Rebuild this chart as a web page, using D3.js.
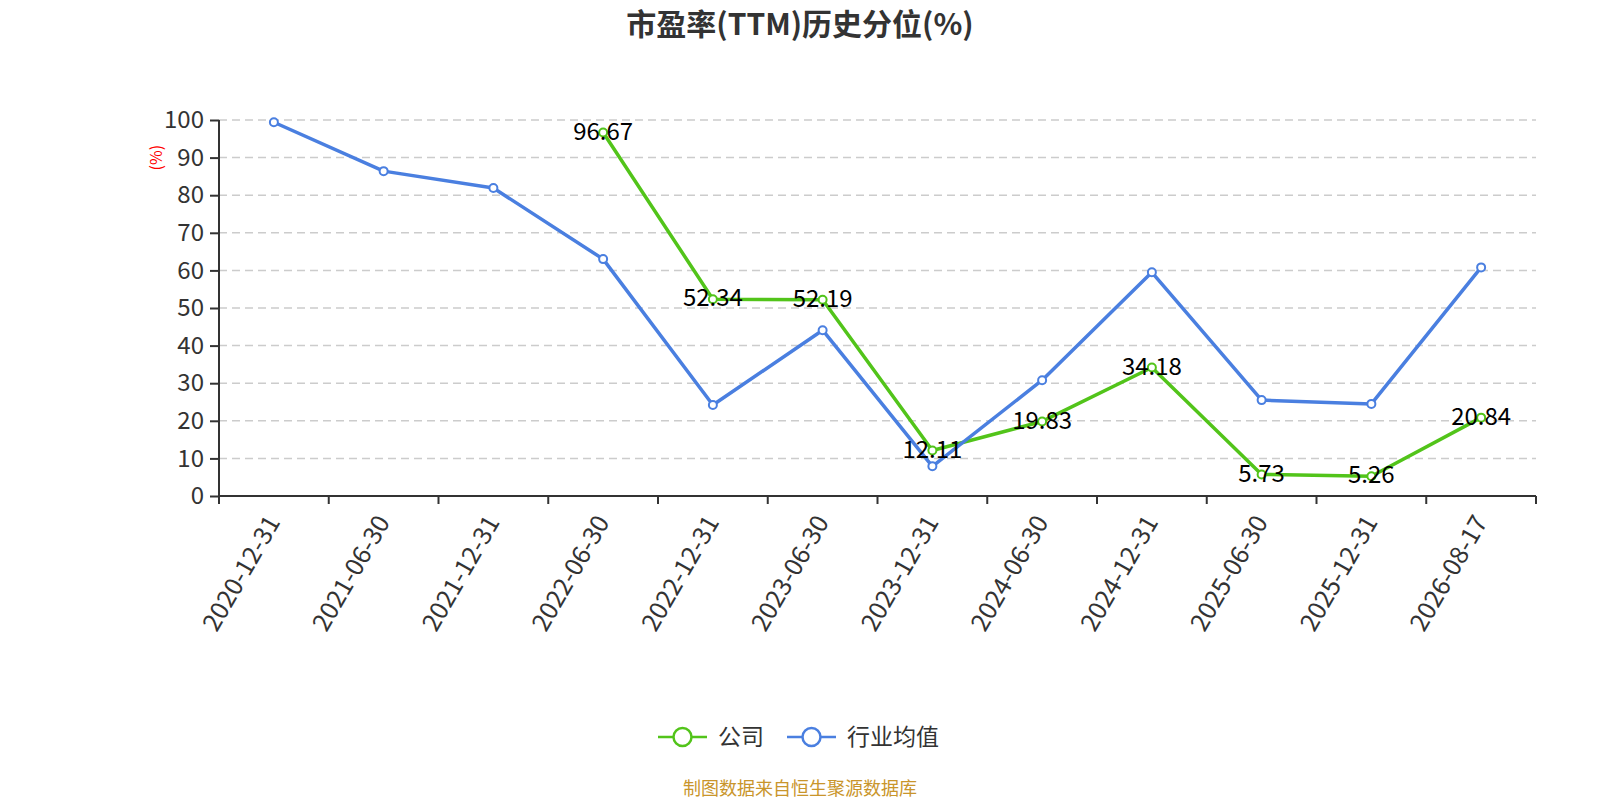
<!DOCTYPE html>
<html>
<head>
<meta charset="utf-8">
<script src="https://cdn.jsdelivr.net/npm/d3@7"></script>
<style>
  body { margin: 0; background: #fff; }
  text { font-family: "Noto Sans CJK SC", "Open Sans", sans-serif; }
</style>
</head>
<body>
<svg id="chart"></svg>
<script>
// categories and series
const dates = ["2020-12-31", "2021-06-30", "2021-12-31", "2022-06-30", "2022-12-31", "2023-06-30",
    "2023-12-31", "2024-06-30", "2024-12-31", "2025-06-30", "2025-12-31", "2026-08-17"];
const company = [null, null, null, 96.67, 52.34, 52.19, 12.11, 19.83, 34.18, 5.73, 5.26, 20.84];
const industry = [99.4, 86.4, 81.9, 63.0, 24.2, 44.1, 7.9, 30.8, 59.5, 25.5, 24.5, 60.8];
const yTicks = [0, 10, 20, 30, 40, 50, 60, 70, 80, 90, 100];
const seriesNames = ["公司", "行业均值"];
const colors = ["#52C41A", "#4A7FE0"];

const width = 1600, height = 800;
const margin = { left: 219, right: 64, top: 120, bottom: 304 };
const svg = d3.select("#chart").attr("width", width).attr("height", height);

const x = d3.scaleBand().domain(dates).range([margin.left, width - margin.right]);
const y = d3.scaleLinear().domain([0, 100]).range([height - margin.bottom, margin.top]);

// title
svg.append("text")
    .attr("x", 800).attr("y", 35)
    .attr("text-anchor", "middle")
    .attr("font-size", 30).attr("font-weight", "bold")
    .attr("fill", "#333")
    .text("市盈率(TTM)历史分位(%)");

// grid lines
svg.append("g")
    .selectAll("line")
    .data(yTicks.filter(d => d > 0))
    .enter().append("line")
    .attr("x1", margin.left).attr("x2", width - margin.right)
    .attr("y1", d => y(d)).attr("y2", d => y(d))
    .attr("stroke", "#ccc").attr("stroke-width", 1.5)
    .attr("stroke-dasharray", "8,5");

// y axis
const yAxis = svg.append("g")
    .attr("transform", `translate(${margin.left},0)`)
    .call(d3.axisLeft(y).tickValues(yTicks).tickSize(9).tickPadding(6));
yAxis.select(".domain").attr("stroke", "#333").attr("stroke-width", 2).attr("d", `M0,${y(0)}V${y(100)}`);
yAxis.selectAll(".tick line").attr("stroke", "#333").attr("stroke-width", 2);
yAxis.selectAll(".tick text").attr("font-size", 24).attr("fill", "#333")
    .attr("font-family", "'Open Sans', sans-serif");

svg.append("text")
    .attr("transform", `translate(162,${y(90)}) rotate(-90)`)
    .attr("text-anchor", "middle")
    .attr("font-size", 16).attr("fill", "red")
    .text("(%)");

// x axis
const xAxis = svg.append("g")
    .attr("transform", `translate(0,${y(0)})`)
    .call(d3.axisBottom(x).tickSize(0).tickSizeOuter(0));
xAxis.select(".domain").attr("stroke", "#333").attr("stroke-width", 2)
    .attr("d", `M${margin.left},0H${width - margin.right}`);
xAxis.append("g")
    .selectAll("line")
    .data(dates.concat(["end"]))
    .enter().append("line")
    .attr("x1", (d, i) => margin.left + i * x.step())
    .attr("x2", (d, i) => margin.left + i * x.step())
    .attr("y1", 0).attr("y2", 8)
    .attr("stroke", "#333").attr("stroke-width", 2);
xAxis.selectAll(".tick text")
    .attr("font-size", 25).attr("fill", "#333")
    .attr("font-family", "'Open Sans', sans-serif")
    .attr("text-anchor", "end")
    .attr("dy", "0.35em")
    .attr("transform", "translate(-3,20) rotate(-60)");

// lines
const cx = (d, i) => x(dates[i]) + x.bandwidth() / 2;
const lineGen = d3.line()
    .defined(d => d !== null)
    .x((d, i) => cx(d, i))
    .y(d => y(d));

[company, industry].forEach((series, k) => {
    svg.append("path")
        .datum(series)
        .attr("fill", "none")
        .attr("stroke", colors[k])
        .attr("stroke-width", 3.5)
        .attr("stroke-linejoin", "round")
        .attr("d", lineGen);
});

[industry, company].forEach(series => {
    const k = series === company ? 0 : 1;
    svg.append("g")
        .selectAll("circle")
        .data(series.map((v, i) => ({ v, i })).filter(d => d.v !== null))
        .enter().append("circle")
        .attr("cx", d => cx(d.v, d.i))
        .attr("cy", d => y(d.v))
        .attr("r", 4)
        .attr("fill", "#fff")
        .attr("stroke", colors[k])
        .attr("stroke-width", 2);
});

// company value labels
svg.append("g")
    .selectAll("text")
    .data(company.map((v, i) => ({ v, i })).filter(d => d.v !== null))
    .enter().append("text")
    .attr("x", d => cx(d.v, d.i))
    .attr("y", d => y(d.v))
    .attr("dy", "0.3em")
    .attr("text-anchor", "middle")
    .attr("font-size", 24)
    .attr("fill", "#000")
    .attr("font-family", "'Open Sans', sans-serif")
    .text(d => d.v.toFixed(2));

// legend
const legendX = [658, 787];
const legend = svg.append("g");
seriesNames.forEach((name, k) => {
    const g = legend.append("g").attr("transform", `translate(${legendX[k]},737)`);
    g.append("line").attr("x1", 0).attr("x2", 49).attr("y1", 0).attr("y2", 0)
        .attr("stroke", colors[k]).attr("stroke-width", 2.5);
    g.append("circle").attr("cx", 24.5).attr("cy", 0).attr("r", 9)
        .attr("fill", "#fff").attr("stroke", colors[k]).attr("stroke-width", 2.5);
    g.append("text").attr("x", 60).attr("y", 0).attr("dy", "0.35em")
        .attr("font-size", 23).attr("fill", "#333").text(name);
});

// source
svg.append("text")
    .attr("x", 800).attr("y", 795)
    .attr("text-anchor", "middle")
    .attr("font-size", 18).attr("fill", "#C9952B")
    .text("制图数据来自恒生聚源数据库");
</script>
</body>
</html>
